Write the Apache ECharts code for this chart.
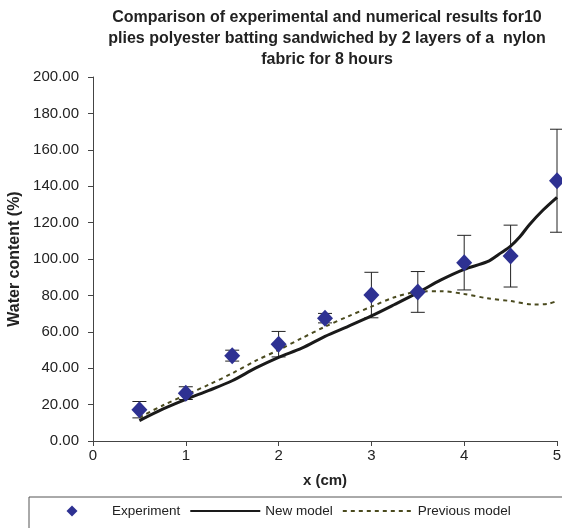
<!DOCTYPE html>
<html>
<head>
<meta charset="utf-8">
<script src="https://cdn.jsdelivr.net/npm/echarts@6/dist/echarts.min.js"></script>
<style>
    html, body { margin: 0; padding: 0; background: #fff; }
    #chart { width: 562px; height: 528px; }
</style>
</head>
<body>
<div id="chart"></div>
<script>
// experiment points + error (+/-)
var expX = [0.5, 1, 1.5, 2, 2.5, 3, 3.5, 4, 4.5, 5];
var expY = [17.2, 26.3, 46.9, 53.2, 67.5, 80.2, 81.9, 98.0, 101.6, 143.0];
var expErr = [4.5, 3.5, 3, 7, 2.6, 12.5, 11.2, 15, 17, 28.3];

// model curves
var newX = [0.5, 0.75, 1, 1.25, 1.5, 1.75, 2, 2.25, 2.5, 2.75, 3, 3.25, 3.5, 3.75, 4, 4.25, 4.4, 4.5, 4.6, 4.7, 4.85, 5];
var newY = [11.2, 17.5, 22.9, 27.8, 33.1, 40, 46, 51, 57.5, 63, 68.7, 75, 81.5, 88.5, 94.3, 98.5, 103.5, 107.1, 112.2, 118.7, 126.9, 133.9];
var prevX = [0.5, 0.75, 1, 1.25, 1.5, 1.75, 2, 2.25, 2.5, 2.75, 3, 3.25, 3.5, 3.75, 4, 4.25, 4.5, 4.75, 4.9, 5];
var prevY = [13, 19.5, 25.3, 31, 37.2, 44, 50, 56.5, 62.8, 68.5, 73.8, 79, 82, 82.3, 80.8, 78.4, 76.9, 75, 75.3, 77];

var titleLines = [
    'Comparison of experimental and numerical results for10',
    'plies polyester batting sandwiched by 2 layers of a  nylon',
    'fabric for 8 hours'
];

function pairs(xs, ys) {
    var out = [];
    for (var i = 0; i < xs.length; i++) out.push([xs[i], ys[i]]);
    return out;
}

var errData = [];
for (var i = 0; i < expX.length; i++) {
    errData.push([expX[i], expY[i] - expErr[i], expY[i] + expErr[i]]);
}

var myChart = echarts.init(document.getElementById('chart'));
var font = 'Liberation Sans, Arial, sans-serif';
// diamond centred in a 70x11 box (the extra moveTo points set the bounds)
var diamondIcon = 'path://M0,0M70,11M35,0L40.5,5.5L35,11L29.5,5.5Z';

var option = {
    backgroundColor: '#fff',
    animation: false,
    textStyle: { fontFamily: font },
    graphic: [{
        type: 'text',
        x: 327,
        y: 7,
        style: {
            text: titleLines.join('\n'),
            align: 'center',
            verticalAlign: 'top',
            font: 'bold 16px ' + font,
            lineHeight: 21,
            fill: '#222'
        }
    }],
    grid: { left: 93, right: 5, top: 77, bottom: 87, outerBoundsMode: 'none' },
    xAxis: {
        type: 'value',
        min: 0, max: 5, interval: 1,
        name: 'x (cm)',
        nameLocation: 'middle',
        nameGap: 32,
        nameTextStyle: { fontWeight: 'bold', fontSize: 15, color: '#222' },
        axisLine: { lineStyle: { color: '#444', width: 1 } },
        axisTick: { show: true, length: 5, lineStyle: { color: '#444' } },
        axisLabel: { color: '#222', fontSize: 15, margin: 7 },
        splitLine: { show: false }
    },
    yAxis: {
        type: 'value',
        min: 0, max: 200, interval: 20,
        name: 'Water content (%)',
        nameLocation: 'middle',
        nameGap: 65,
        nameTextStyle: { fontWeight: 'bold', fontSize: 16, color: '#222' },
        axisLine: { show: true, lineStyle: { color: '#444', width: 1 } },
        axisTick: { show: true, length: 5, lineStyle: { color: '#444' } },
        axisLabel: {
            color: '#222', fontSize: 15, margin: 14,
            formatter: function (v) { return v.toFixed(2); }
        },
        splitLine: { show: false }
    },
    legend: {
        data: [
            { name: 'Experiment', icon: diamondIcon },
            'New model',
            'Previous model'
        ],
        left: 29,
        top: 497,
        width: 700,
        padding: [7, 60, 20, 8],
        borderColor: '#555',
        borderWidth: 1,
        itemWidth: 70,
        itemHeight: 11,
        itemGap: 9,
        textStyle: { color: '#222', fontSize: 13.5 }
    },
    series: [
        {
            name: 'errbar',
            type: 'custom',
            data: errData,
            z: 2,
            renderItem: function (params, api) {
                var lo = api.coord([api.value(0), api.value(1)]);
                var hi = api.coord([api.value(0), api.value(2)]);
                var w = 7;
                var st = { stroke: '#222', lineWidth: 1 };
                return {
                    type: 'group',
                    children: [
                        { type: 'line', shape: { x1: lo[0], y1: lo[1], x2: hi[0], y2: hi[1] }, style: st },
                        { type: 'line', shape: { x1: lo[0] - w, y1: lo[1], x2: lo[0] + w, y2: lo[1] }, style: st },
                        { type: 'line', shape: { x1: hi[0] - w, y1: hi[1], x2: hi[0] + w, y2: hi[1] }, style: st }
                    ]
                };
            }
        },
        {
            name: 'New model',
            type: 'line',
            data: pairs(newX, newY),
            smooth: 0.3,
            symbol: 'none',
            z: 3,
            itemStyle: { color: '#1a1a1a', opacity: 0 },
            lineStyle: { color: '#1a1a1a', width: 3 }
        },
        {
            name: 'Previous model',
            type: 'line',
            data: pairs(prevX, prevY),
            smooth: 0.3,
            symbol: 'none',
            z: 3,
            itemStyle: { color: '#4a4a1e', opacity: 0 },
            lineStyle: { color: '#4a4a1e', width: 2, type: [4, 4] }
        },
        {
            name: 'Experiment',
            type: 'scatter',
            data: pairs(expX, expY),
            symbol: 'diamond',
            symbolSize: [16, 17],
            z: 4,
            itemStyle: { color: '#2e3192', opacity: 1 }
        }
    ]
};

myChart.setOption(option);
</script>
</body>
</html>
